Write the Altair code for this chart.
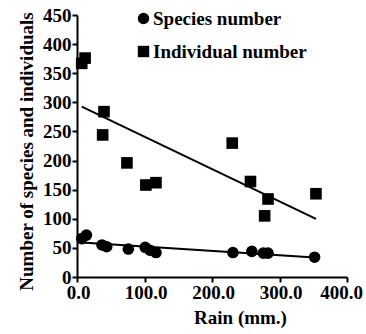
import altair as alt
import pandas as pd

# Species number (circles)
rain_species = [7, 14, 37, 44, 76, 101, 108, 117, 231, 259, 276, 283, 352]
species = [66, 72, 55, 52, 48, 51, 46, 42, 42, 44, 41, 41, 34]

# Individual number (squares)
rain_ind = [7, 12, 38, 40, 74, 102, 117, 230, 257, 278, 283, 354]
individuals = [367, 376, 244, 284, 196, 158, 162, 230, 164, 105, 134, 143]

series_names = ["Species number", "Individual number"]
x_ticks = [0, 100, 200, 300, 400]
y_ticks = [0, 50, 100, 150, 200, 250, 300, 350, 400, 450]

df = pd.concat([
    pd.DataFrame({"rain": rain_species, "value": species, "series": series_names[0]}),
    pd.DataFrame({"rain": rain_ind, "value": individuals, "series": series_names[1]}),
])

FONT = "Liberation Serif"

x = alt.X("rain:Q", scale=alt.Scale(domain=[0, 400], nice=False),
          axis=alt.Axis(values=x_ticks, format=".1f", title="Rain (mm.)", labelFlush=False,
                        labelOffset={"condition": {"test": "datum.value === 400", "value": -6},
                                     "value": 1},
                        titleX=163, titleY=46, titleBaseline="alphabetic"))
y = alt.Y("value:Q", scale=alt.Scale(domain=[0, 450], nice=False),
          axis=alt.Axis(values=y_ticks, title="Number of species and individuals",
                        labelFlush=False,
                        titleX=-51, titleY=136, titleAngle=270, titleBaseline="middle",
                        titleAlign="center"))

points = alt.Chart(df).mark_point(filled=True, opacity=1, size=135, color="black").encode(
    x=x, y=y,
    shape=alt.Shape("series:N",
                    scale=alt.Scale(domain=series_names, range=["circle", "square"]),
                    legend=alt.Legend(title=None, orient="none", legendX=57, legendY=-6,
                                      labelFont=FONT, labelFontSize=19, labelFontWeight="bold",
                                      labelColor="black", symbolSize=130,
                                      symbolFillColor="black", symbolStrokeColor="black",
                                      symbolStrokeWidth=0, labelOffset=0, rowPadding=13)),
)

lines = alt.Chart(df).transform_regression(
    "rain", "value", groupby=["series"]
).mark_line(color="black", strokeWidth=2).encode(x=x, y=y, detail="series:N")

chart = alt.layer(lines, points).properties(
    width=270, height=262,
    autosize=alt.AutoSizeParams(type="none"),
    padding={"left": 77, "top": 15, "right": 19, "bottom": 57},
).configure_view(stroke=None).configure_axis(
    grid=False, domainColor="black", domainWidth=2, tickColor="black", tickWidth=2,
    tickSize=5, labelFont=FONT, labelFontSize=19, labelFontWeight="bold",
    labelColor="black", labelPadding=1, titleFont=FONT, titleFontSize=19,
    titleFontWeight="bold", titleColor="black",
)

chart.save("out.html", embed_options={"renderer": "svg", "actions": False})
